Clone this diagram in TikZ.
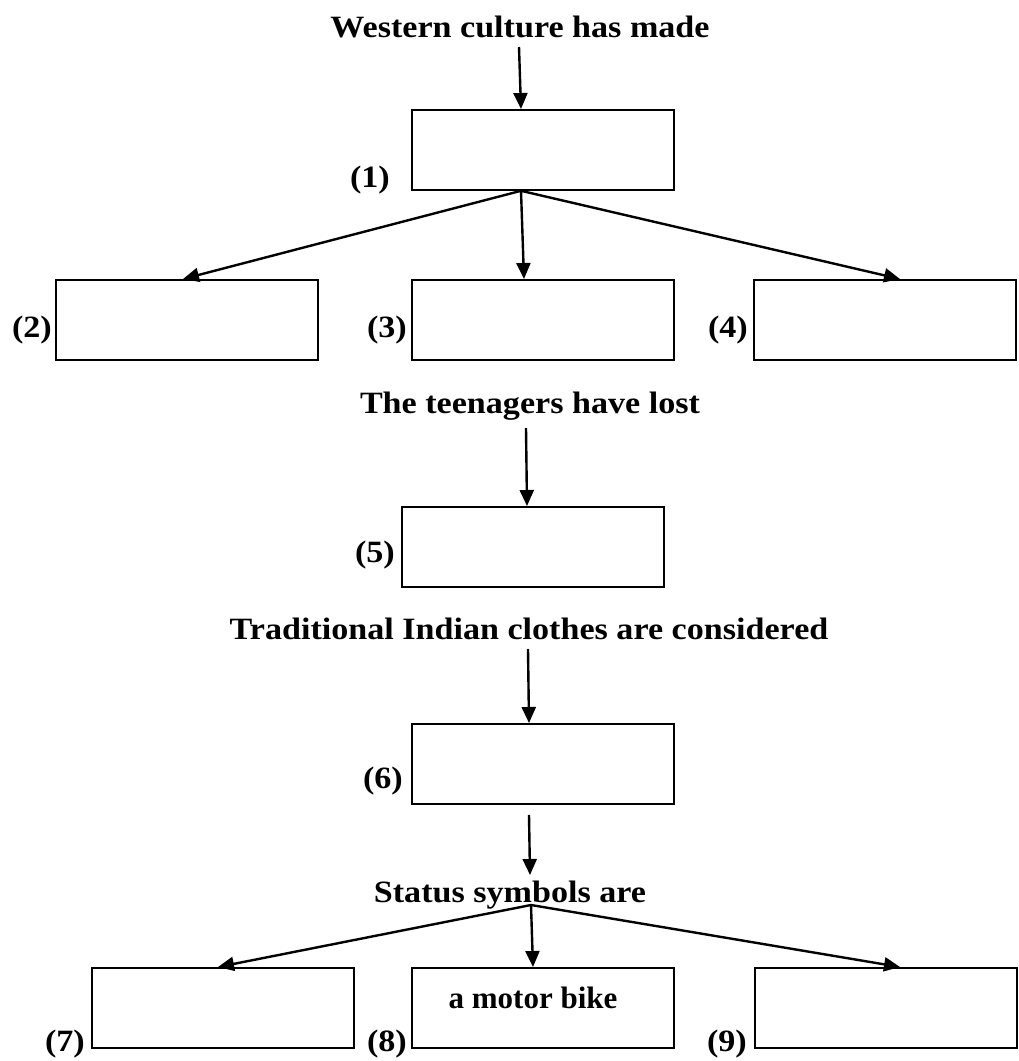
\documentclass[tikz,border=0pt]{standalone}
\usepackage{fontspec}
\newfontfamily\camfont{Liberation Serif}[FakeStretch=1.1]
\newfontfamily\tnrfont{Liberation Serif}
\usetikzlibrary{arrows.meta}
\begin{document}
\begin{tikzpicture}[x=1pt,y=-1pt,
  bx/.style={draw, line width=1.8pt, rectangle, minimum width=262pt, minimum height=80pt, inner sep=0pt, anchor=north west},
  ttl/.style={font=\camfont\bfseries\fontsize{31}{36}\selectfont, anchor=base, inner sep=0pt},
  lab/.style={font=\camfont\bfseries\fontsize{31}{36}\selectfont, anchor=base east, inner sep=0pt},
  arr/.style={-{Triangle[length=16pt,width=14pt]}, line width=2.4pt}]
\useasboundingbox (0,0) rectangle (1019,1061);

% titles
\node[ttl] (t1) at (520,37) {Western culture has made};
\node[ttl] (t2) at (530,413) {The teenagers have lost};
\node[ttl] (t3) at (529,639) {Traditional Indian clothes are considered};
\node[ttl] (t4) at (510,902) {Status symbols are};

% boxes
\node[bx] (b1) at (411,109) {};
\node[bx] (b2) at (55,279) {};
\node[bx] (b3) at (411,279) {};
\node[bx] (b4) at (753,279) {};
\node[bx] (b5) at (401,506) {};
\node[bx] (b6) at (411,723) {};
\node[bx] (b7) at (91,967) {};
\node[bx] (b8) at (411,967) {};
\node[bx] (b9) at (754,967) {};

\node[font=\tnrfont\bfseries\fontsize{31}{36}\selectfont, anchor=base, inner sep=0pt] (m8) at (533,1008) {a motor bike};

% labels
\node[lab] (l1) at (390,187) {(1)};
\node[lab] (l2) at (52,337) {(2)};
\node[lab] (l3) at (407,337) {(3)};
\node[lab] (l4) at (748,337) {(4)};
\node[lab] (l5) at (395,562) {(5)};
\node[lab] (l6) at (403,788) {(6)};
\node[lab] (l7) at (85,1051) {(7)};
\node[lab] (l8) at (407,1051) {(8)};
\node[lab] (l9) at (747,1051) {(9)};

% connectors
\coordinate (f1) at ([xshift=110pt]b1.south west);
\coordinate (f2) at ([xshift=21pt,yshift=-3pt]t4.base);

\draw[arr] ([xshift=-1pt,yshift=-10pt]t1.base) -- ([xshift=110pt]b1.north west);
\draw[arr] (f1) -- ([xshift=128pt]b2.north west);
\draw[arr] (f1) -- ([xshift=113pt]b3.north west);
\draw[arr] (f1) -- ([xshift=147pt]b4.north west);
\draw[arr] ([xshift=-4pt,yshift=-15pt]t2.base) -- ([xshift=126pt]b5.north west);
\draw[arr] ([xshift=-1pt,yshift=-10pt]t3.base) -- ([xshift=118pt]b6.north west);
\draw[arr] ([xshift=118pt,yshift=-10pt]b6.south west) -- ([xshift=20pt,yshift=27pt]t4.base);
\draw[arr] (f2) -- ([xshift=127pt]b7.north west);
\draw[arr] (f2) -- ([xshift=122pt]b8.north west);
\draw[arr] (f2) -- ([xshift=146pt]b9.north west);
\end{tikzpicture}
\end{document}
